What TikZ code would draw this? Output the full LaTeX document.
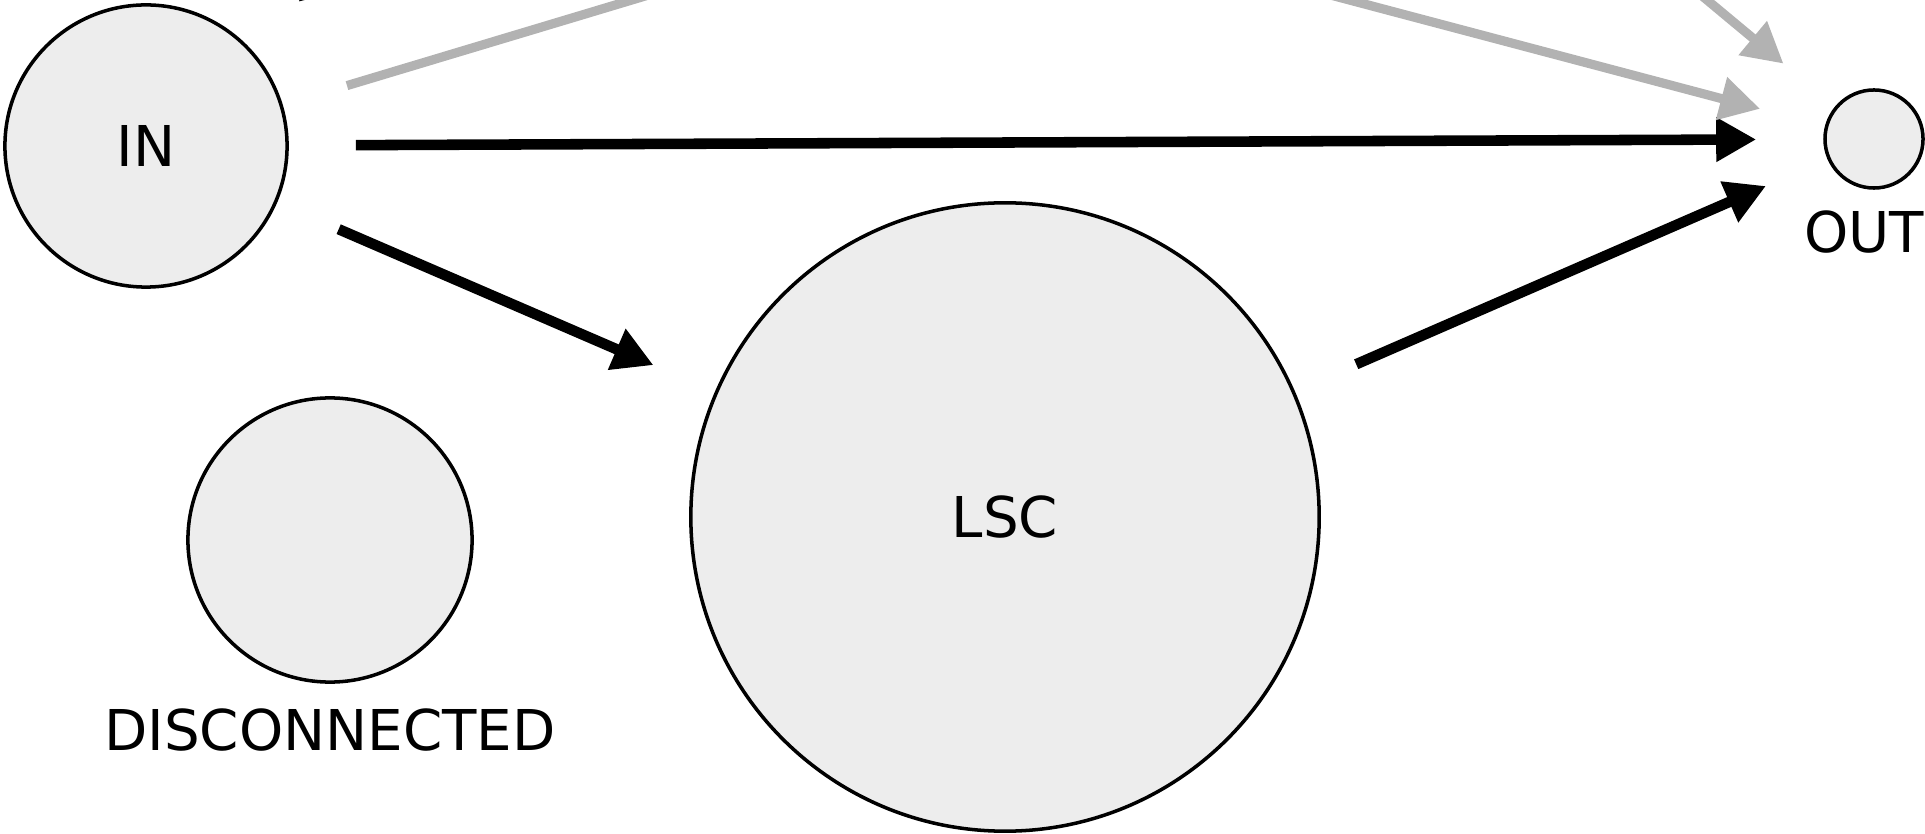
\documentclass[tikz,border=0pt]{standalone}
\usepackage{fontspec}
\setmainfont{DejaVu Sans}
\usetikzlibrary{arrows.meta}

\begin{document}
\begin{tikzpicture}[x=0.01cm, y=-0.01cm,
		comp/.style={draw, circle, fill=black!7, line width=1pt, inner sep=0pt, font=\fontsize{16pt}{19pt}\selectfont},
		link/.style={line width=3pt, -{Triangle[length=0.4cm,width=0.42cm]}, shorten <=0.67cm, shorten >=0.67cm},
		faint/.style={link, draw=black!30, line width=2.6pt},
		every label/.style={font=\fontsize{16pt}{19pt}\selectfont}]
		\useasboundingbox (0,0) rectangle (1925,834);
		\clip (0,0) rectangle (1925,834);
		
		% Nodes
		\node[comp, minimum size=2.82cm] (in) at (146,146) {IN};
		\node[comp, minimum size=6.28cm] (lsc) at (1005,517) {LSC};
		\node[comp, minimum size=0.98cm, label={[xshift=-0.1cm, yshift=-0.09cm]below:OUT}] (out) at (1874,139) {};
		\node[comp, minimum size=2.84cm, label={[yshift=-0.12cm]below:DISCONNECTED}] (disc) at (330,540) {};
		
		% Outside the frame
		\coordinate (tubes) at (968,-101);
		\coordinate (tendrilA) at (437,-129);
		\coordinate (tendrilB) at (1600,-89);
		
		% Edges
		\draw[link] (in) -- (out);
		\draw[link] (in) -- (lsc);
		\draw[link] (lsc) -- (out);
		\draw[link] (tendrilA) -- (in);
		\draw[faint] (in) -- (tubes);
		\draw[faint] (tubes) -- (out);
		\draw[faint] (tendrilB) -- (out);
		
	\end{tikzpicture}
\end{document}
